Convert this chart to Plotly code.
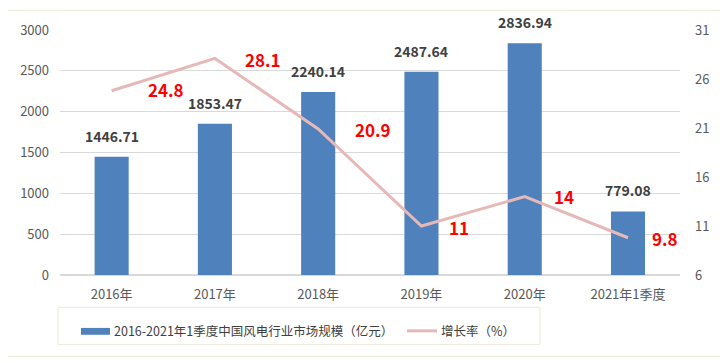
import plotly.graph_objects as go

categories = ["2016年", "2017年", "2018年", "2019年", "2020年", "2021年1季度"]
market_size = [1446.71, 1853.47, 2240.14, 2487.64, 2836.94, 779.08]
growth_rate = [24.8, 28.1, 20.9, 11, 14, 9.8]
growth_labels = ["24.8", "28.1", "20.9", "11", "14", "9.8"]
right_ticks = [6, 11, 16, 21, 26, 31]
bar_name = "2016-2021年1季度中国风电行业市场规模（亿元）"
line_name = "增长率（%）"
label_shift_x = [54, 48, 55, 38, 39, 37]
label_shift_y = [1, -1, -1, -1, 0, -1]

FONT = "Noto Sans CJK SC"
BAR_C = "#4F81BD"
LINE_C = "#E6B9B8"
fig = go.Figure()
fig.add_trace(go.Bar(
    x=categories, y=market_size, name=bar_name,
    marker=dict(color=BAR_C, line=dict(width=0)), width=0.33,
))
fig.add_trace(go.Scatter(
    x=categories, y=growth_rate, name=line_name, yaxis="y2", mode="lines",
    line=dict(color=LINE_C, width=3),
))
for c, v in zip(categories, market_size):
    fig.add_annotation(x=c, y=v, text=f"{v:.2f}", showarrow=False, yanchor="bottom", yshift=9,
                       font=dict(family=FONT, size=14, color="#404040", weight="bold"))
for c, v, t, dx, dy in zip(categories, growth_rate, growth_labels, label_shift_x, label_shift_y):
    fig.add_annotation(x=c, y=v, yref="y2", text=t, showarrow=False,
                       xshift=dx, yshift=dy,
                       font=dict(family=FONT, size=17, color="#FF0000", weight="bold"))

def px_x(x):
    return (x - 60) / 620

def px_y(y):
    return (275 - y) / 250

# outer frame
fig.add_shape(type="rect", xref="paper", yref="paper", x0=-0.092, x1=1.073, y0=-0.332, y1=1.08,
              line=dict(color="#ECEAD8", width=1))
# custom legend
fig.add_shape(type="rect", xref="paper", yref="paper", x0=px_x(58), x1=px_x(540),
              y0=px_y(346), y1=px_y(308), line=dict(color="#ECEAD8", width=1))
fig.add_shape(type="rect", xref="paper", yref="paper", x0=px_x(81), x1=px_x(110),
              y0=px_y(336), y1=px_y(329), line=dict(width=0), fillcolor=BAR_C)
fig.add_shape(type="line", xref="paper", yref="paper", x0=px_x(407), x1=px_x(437),
              y0=px_y(332), y1=px_y(332), line=dict(color=LINE_C, width=3))
fig.add_annotation(xref="paper", yref="paper", x=px_x(112), y=px_y(332), text=bar_name,
                   showarrow=False, xanchor="left", yanchor="middle",
                   font=dict(family=FONT, size=12.5, color="#404040"))
fig.add_annotation(xref="paper", yref="paper", x=px_x(439), y=px_y(332), text=line_name,
                   showarrow=False, xanchor="left", yanchor="middle",
                   font=dict(family=FONT, size=12.5, color="#404040"))

fig.update_layout(
    width=720, height=355, margin=dict(l=52, r=48, t=17, b=88),
    paper_bgcolor="white", plot_bgcolor="white",
    font=dict(family=FONT, size=13, color="#595959"),
    xaxis=dict(showgrid=False, showline=False, ticks="", ticklabelstandoff=10,
               tickfont=dict(size=13, color="#595959")),
    yaxis=dict(range=[0, 3000], dtick=500, gridcolor="#D9D9D9", gridwidth=1, zeroline=True,
               zerolinecolor="#D9D9D9", tickfont=dict(size=13, color="#595959"),
               ticklabelstandoff=10),
    yaxis2=dict(range=[6, 31], tickvals=right_ticks, overlaying="y", side="right", showgrid=False,
                zeroline=False, tickfont=dict(size=13, color="#595959"), ticklabelstandoff=14),
    showlegend=False,
)
fig.write_html("out.html")
